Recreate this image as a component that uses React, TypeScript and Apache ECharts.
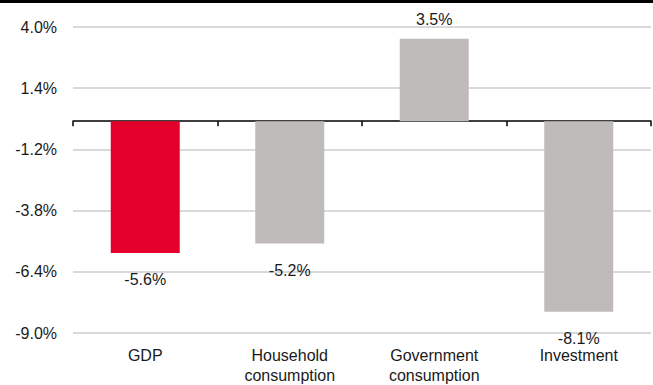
import React, { useEffect, useRef } from "react";
import * as echarts from "echarts";

const categories = ["GDP", "Household\nconsumption", "Government\nconsumption", "Investment"];
const values = [-5.6, -5.2, 3.5, -8.1];
const barColors = ["#E4002B", "#BFBBBA", "#BFBBBA", "#BFBBBA"];
const yTicks = [-9.0, -6.4, -3.8, -1.2, 1.4, 4.0];

export default function App() {
  const ref = useRef<HTMLDivElement>(null);
  useEffect(() => {
    document.body.style.margin = "0";
    const chart = echarts.init(ref.current!, null, { renderer: "svg" });
    const font = "Liberation Sans, Arial, sans-serif";
    chart.setOption({
      animation: false,
      backgroundColor: "#ffffff",
      graphic: [
        { type: "rect", shape: { x: 0, y: 0, width: 653, height: 3 }, style: { fill: "#000" } },
      ],
      grid: { left: 73, right: 2, top: 27, bottom: 51, containLabel: false },
      xAxis: [
        {
          type: "category",
          data: categories,
          position: "bottom",
          axisLine: { show: false, onZero: false },
          axisTick: { show: false },
          axisLabel: { color: "#1a1a1a", fontSize: 16, fontFamily: font, lineHeight: 20, margin: 12 },
        },
        {
          type: "category",
          data: categories,
          position: "bottom",
          axisLine: { show: true, onZero: true, lineStyle: { color: "#000", width: 1.5 } },
          axisTick: { show: true, length: 5, lineStyle: { color: "#000", width: 1.5 } },
          axisLabel: { show: false },
        },
      ],
      yAxis: {
        type: "value",
        min: -9,
        max: 4,
        axisLine: { show: false },
        axisTick: { show: false, customValues: yTicks },
        axisLabel: {
          customValues: yTicks,
          color: "#1a1a1a",
          fontSize: 16,
          fontFamily: font,
          margin: 16,
          formatter: (v: number) => v.toFixed(1) + "%",
        },
        splitLine: { show: true, lineStyle: { color: "#D9D9D9", width: 2 } },
      },
      series: [
        {
          type: "bar",
          xAxisIndex: 0,
          barWidth: 69,
          data: values.map((v, i) => ({
            value: v,
            itemStyle: { color: barColors[i] },
            label: {
              show: true,
              position: v >= 0 ? "top" : "bottom",
              distance: v >= 0 ? 11 : 19,
              formatter: v.toFixed(1) + "%",
              color: "#1a1a1a",
              fontSize: 16,
              fontFamily: font,
            },
          })),
        },
      ],
    });
    return () => chart.dispose();
  }, []);
  return <div ref={ref} style={{ width: 653, height: 385 }} />;
}
